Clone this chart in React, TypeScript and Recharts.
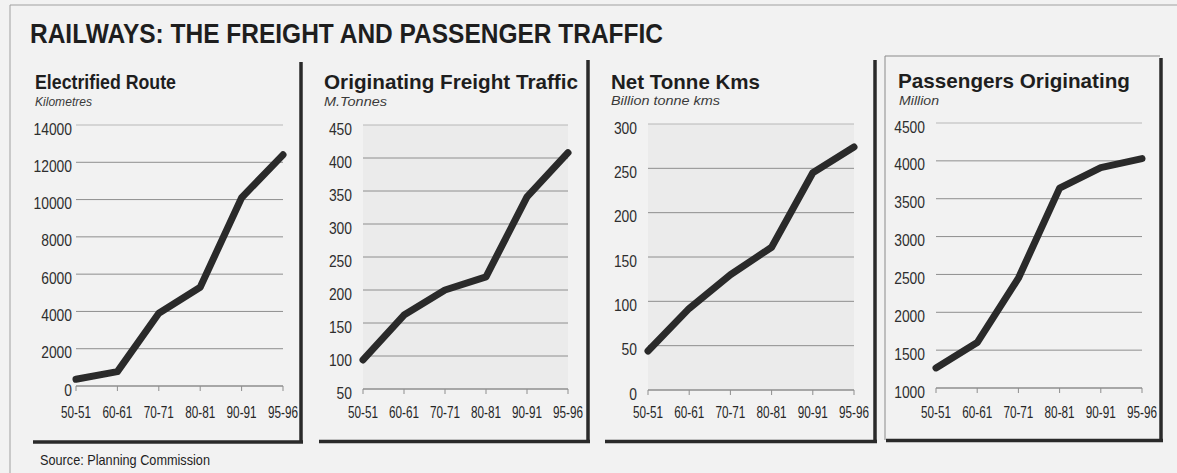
import React from 'react';
import { LineChart, Line, XAxis, YAxis, CartesianGrid } from 'recharts';

// Periods (financial years) shared by every panel
const periods = ['50-51', '60-61', '70-71', '80-81', '90-91', '95-96'];

// Series values
const electrifiedKm = [360, 770, 3900, 5300, 10100, 12400];
const freightMt = [94, 162, 200, 220, 341, 408];
const tonneKmBn = [44, 92, 130, 161, 245, 274];
const passengersMn = [1265, 1600, 2450, 3640, 3910, 4030];

// Y-axis tick values
const electrifiedTicks = [0, 2000, 4000, 6000, 8000, 10000, 12000, 14000];
const freightTicks = [50, 100, 150, 200, 250, 300, 350, 400, 450];
const tonneKmTicks = [0, 50, 100, 150, 200, 250, 300];
const passengerTicks = [1000, 1500, 2000, 2500, 3000, 3500, 4000, 4500];

const FONT = '"Liberation Sans", Arial, Helvetica, sans-serif';
const INK = '#2a2a2a';
const LABEL_BASELINE = 418;

type PanelProps = {
  values: number[];
  ticks: number[];
  plotLeft: number;
  plotRight: number;
  plotTop: number;
  plotBottom: number;
  labelGap: number;
  shaded?: boolean;
};

const YTick = (props: any) => {
  const { x, y, payload } = props;
  const label = String(payload.value);
  return (
    <text
      x={x}
      y={y + 9.5}
      textAnchor="end"
      fontFamily={FONT}
      fontSize={16}
      fill="#2e2e2e"
      textLength={label.length * 7.7}
      lengthAdjust="spacingAndGlyphs"
    >
      {label}
    </text>
  );
};

const XTick = (props: any) => {
  const { x, y, payload } = props;
  return (
    <text
      x={x}
      y={y}
      textAnchor="middle"
      fontFamily={FONT}
      fontSize={16}
      fill="#262626"
      textLength={30}
      lengthAdjust="spacingAndGlyphs"
    >
      {payload.value}
    </text>
  );
};

function Panel({ values, ticks, plotLeft, plotRight, plotTop, plotBottom, labelGap, shaded }: PanelProps) {
  const yAxisWidth = 60;
  const chartTop = 100;
  const chartHeight = 350;
  const marginRight = 30;
  const xAxisHeight = 40;
  const tickSize = 5;
  const left = plotLeft - yAxisWidth;
  const width = yAxisWidth + (plotRight - plotLeft) + marginRight;
  const marginTop = plotTop - chartTop;
  const marginBottom = chartHeight - (plotBottom - chartTop) - xAxisHeight;
  const data = periods.map((p, i) => ({ period: p, value: values[i] }));

  const gridLine = (p: any) => (
    <line
      key={`h-${p.y1}`}
      x1={p.x1}
      y1={p.y1}
      x2={p.x2}
      y2={p.y2}
      stroke={Math.abs(p.y1 - marginTop) < 1 ? '#b8b8b8' : '#8e8e8e'}
      strokeWidth={1}
    />
  );

  return (
    <div style={{ position: 'absolute', left, top: chartTop }}>
      <LineChart
        width={width}
        height={chartHeight}
        data={data}
        margin={{ top: marginTop, right: marginRight, bottom: marginBottom, left: 0 }}
      >
        <CartesianGrid
          vertical={false}
          horizontal={gridLine}
          fill={shaded ? '#ebebeb' : 'none'}
        />
        <XAxis
          dataKey="period"
          height={xAxisHeight}
          interval={0}
          tickSize={tickSize}
          tickMargin={LABEL_BASELINE - plotBottom - tickSize}
          axisLine={{ stroke: '#8e8e8e' }}
          tickLine={{ stroke: '#8e8e8e' }}
          tick={<XTick />}
        />
        <YAxis
          width={yAxisWidth}
          type="number"
          domain={[ticks[0], ticks[ticks.length - 1]]}
          ticks={ticks}
          interval={0}
          axisLine={false}
          tickLine={false}
          tickSize={0}
          tickMargin={labelGap}
          tick={<YTick />}
        />
        <Line
          type="linear"
          dataKey="value"
          stroke={INK}
          strokeWidth={7}
          strokeLinejoin="round"
          strokeLinecap="round"
          dot={false}
          activeDot={false}
          isAnimationActive={false}
        />
      </LineChart>
    </div>
  );
}

const Title = ({ x, y, text, w, size, bold, italic }: any) => (
  <text
    x={x}
    y={y}
    fontFamily={FONT}
    fontSize={size}
    fontWeight={bold ? 'bold' : 'normal'}
    fontStyle={italic ? 'italic' : 'normal'}
    fill={italic ? '#3a3a3a' : '#1e1e1e'}
    textLength={w}
    lengthAdjust="spacingAndGlyphs"
  >
    {text}
  </text>
);

export default function App() {
  return (
    <div
      style={{
        position: 'absolute',
        left: 0,
        top: 0,
        width: 1177,
        height: 473,
        background: '#f2f2f2',
        overflow: 'hidden',
      }}
    >
      <svg
        width={1177}
        height={473}
        style={{ position: 'absolute', left: 0, top: 0 }}
      >
        {/* outer frame */}
        <path d="M10 473 V5 H1177" stroke="#a0a0a0" strokeWidth={1} fill="none" />

        <Title x={30} y={43} text="RAILWAYS: THE FREIGHT AND PASSENGER TRAFFIC" w={633} size={27} bold />

        {/* panel headings */}
        <Title x={35} y={89} text="Electrified Route" w={141} size={21} bold />
        <Title x={35} y={106} text="Kilometres" w={57} size={13.5} italic />
        <Title x={324} y={89} text="Originating Freight Traffic" w={254} size={21} bold />
        <Title x={324} y={106} text="M.Tonnes" w={63} size={13.5} italic />
        <Title x={611} y={89} text="Net Tonne Kms" w={149} size={21} bold />
        <Title x={611} y={105} text="Billion tonne kms" w={109} size={13.5} italic />
        <Title x={898} y={88} text="Passengers Originating" w={232} size={21} bold />
        <Title x={899} y={105} text="Million" w={40} size={13.5} italic />

        {/* panel rules */}
        <g stroke={INK} strokeWidth={3.5} fill="none">
          <path d="M301 62 V443" />
          <path d="M33 442 H303" />
          <path d="M588 60 V443" />
          <path d="M319 441.5 H590" />
          <path d="M875 60 V443" />
          <path d="M605 441.5 H877" />
          <path d="M1161 58 V442" />
          <path d="M886 440.5 H1163" />
        </g>
        <path d="M885 440 V56 H1160" stroke="#8a8a8a" strokeWidth={1} fill="none" />

        <Title x={40} y={465} text="Source: Planning Commission" w={170} size={15} />
      </svg>

      <Panel values={electrifiedKm} ticks={electrifiedTicks} plotLeft={76} plotRight={283} plotTop={125} plotBottom={386} labelGap={4} />
      <Panel values={freightMt} ticks={freightTicks} plotLeft={363} plotRight={568} plotTop={125} plotBottom={389} labelGap={11} shaded />
      <Panel values={tonneKmBn} ticks={tonneKmTicks} plotLeft={648} plotRight={854} plotTop={124} plotBottom={390} labelGap={11} shaded />
      <Panel values={passengersMn} ticks={passengerTicks} plotLeft={936} plotRight={1142} plotTop={123} plotBottom={388} labelGap={11} />
    </div>
  );
}
